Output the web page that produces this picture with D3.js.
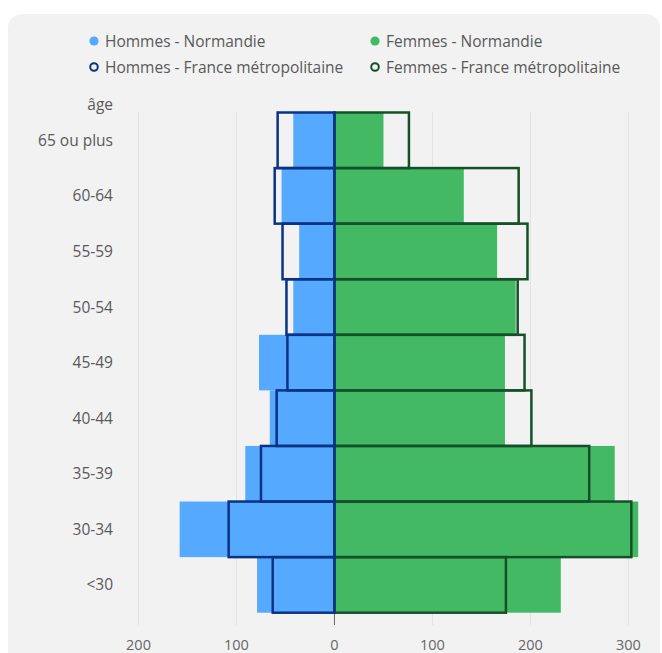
<!DOCTYPE html>
<html>
<head>
<meta charset="utf-8">
<script src="https://cdn.jsdelivr.net/npm/d3@7"></script>
<style>
  html, body { margin: 0; padding: 0; background: #ffffff; }
  svg { display: block; font-family: "Open Sans", sans-serif; }
</style>
</head>
<body>
<svg id="chart" width="662" height="653"></svg>
<script>
// Age groups, top to bottom
const ageGroups = ["65 ou plus", "60-64", "55-59", "50-54", "45-49", "40-44", "35-39", "30-34", "<30"];

// Population per age group
const hommesNormandie = [42, 54, 36, 42, 77, 66, 91, 158, 79];
const hommesFrance    = [58, 61, 53, 49, 48, 59, 75, 108, 63];
const femmesNormandie = [50, 132, 166, 185, 174, 174, 286, 310, 231];
const femmesFrance    = [76, 188, 197, 187, 194, 201, 260, 303, 175];

// Axis ticks (men are drawn on the negative side)
const xTicks = [-200, -100, 0, 100, 200, 300];

const legendItems = [
  { label: "Hommes - Normandie", color: "#55a9ff", hollow: false },
  { label: "Femmes - Normandie", color: "#43b964", hollow: false },
  { label: "Hommes - France métropolitaine", color: "#0b3384", hollow: true },
  { label: "Femmes - France métropolitaine", color: "#16502a", hollow: true }
];

const svg = d3.select("#chart");

// card background
svg.append("rect")
  .attr("x", 8).attr("y", 14)
  .attr("width", 652).attr("height", 680)
  .attr("rx", 14).attr("ry", 14)
  .attr("fill", "#f2f2f2");

const x = d3.scaleLinear().domain([-200, 300]).range([138.5, 628.4]);
const y = d3.scaleBand().domain(ageGroups).range([112.5, 612.7]).padding(0);

const gridTop = 112, gridBottom = 625;

// vertical grid lines
svg.append("g")
  .selectAll("line")
  .data(xTicks.filter(t => t !== 0))
  .join("line")
  .attr("x1", d => x(d)).attr("x2", d => x(d))
  .attr("y1", gridTop).attr("y2", gridBottom)
  .attr("stroke", "#e2e2e2")
  .attr("stroke-width", 1);

// zero tick below the bars
svg.append("line")
  .attr("x1", x(0)).attr("x2", x(0))
  .attr("y1", y.range()[1]).attr("y2", gridBottom)
  .attr("stroke", "#666")
  .attr("stroke-width", 1);

// x tick labels
svg.append("g")
  .selectAll("text")
  .data(xTicks)
  .join("text")
  .attr("x", d => x(d))
  .attr("y", 649.5)
  .attr("text-anchor", "middle")
  .attr("font-size", 14.5)
  .attr("fill", "#666")
  .text(d => Math.abs(d));

// y labels
svg.append("g")
  .selectAll("text")
  .data(ageGroups)
  .join("text")
  .attr("x", 113)
  .attr("y", d => y(d) + y.bandwidth() / 2 + 5.5)
  .attr("text-anchor", "end")
  .attr("font-size", 15.5)
  .attr("fill", "#595959")
  .text(d => d);

svg.append("text")
  .attr("x", 113).attr("y", 110)
  .attr("text-anchor", "end")
  .attr("font-size", 15.5)
  .attr("fill", "#595959")
  .text("âge");

// Normandie filled bars
svg.append("g")
  .selectAll("rect")
  .data(ageGroups)
  .join("rect")
  .attr("x", (d, i) => x(-hommesNormandie[i]))
  .attr("y", d => y(d))
  .attr("width", (d, i) => x(0) - x(-hommesNormandie[i]))
  .attr("height", y.bandwidth())
  .attr("fill", "#55a9ff");

svg.append("g")
  .selectAll("rect")
  .data(ageGroups)
  .join("rect")
  .attr("x", x(0))
  .attr("y", d => y(d))
  .attr("width", (d, i) => x(femmesNormandie[i]) - x(0))
  .attr("height", y.bandwidth())
  .attr("fill", "#43b964");

// France métropolitaine outlines
svg.append("g")
  .selectAll("rect")
  .data(ageGroups)
  .join("rect")
  .attr("x", x(0))
  .attr("y", d => y(d))
  .attr("width", (d, i) => x(femmesFrance[i]) - x(0))
  .attr("height", y.bandwidth())
  .attr("fill", "none")
  .attr("stroke", "#16502a")
  .attr("stroke-width", 2.5);

svg.append("g")
  .selectAll("rect")
  .data(ageGroups)
  .join("rect")
  .attr("x", (d, i) => x(-hommesFrance[i]))
  .attr("y", d => y(d))
  .attr("width", (d, i) => x(0) - x(-hommesFrance[i]))
  .attr("height", y.bandwidth())
  .attr("fill", "none")
  .attr("stroke", "#0b3384")
  .attr("stroke-width", 2.5);

// legend
const legendPos = [[94, 41], [375, 41], [94, 67], [375, 67]];
const legend = svg.append("g")
  .selectAll("g")
  .data(legendItems)
  .join("g")
  .attr("transform", (d, i) => `translate(${legendPos[i][0]},${legendPos[i][1]})`);

legend.append("circle")
  .attr("r", d => d.hollow ? 3.8 : 4.6)
  .attr("fill", d => d.hollow ? "none" : d.color)
  .attr("stroke", d => d.hollow ? d.color : "none")
  .attr("stroke-width", 2);

legend.append("text")
  .attr("x", 11)
  .attr("y", 5.5)
  .attr("font-size", 15.5)
  .attr("fill", "#595959")
  .text(d => d.label);
</script>
</body>
</html>
